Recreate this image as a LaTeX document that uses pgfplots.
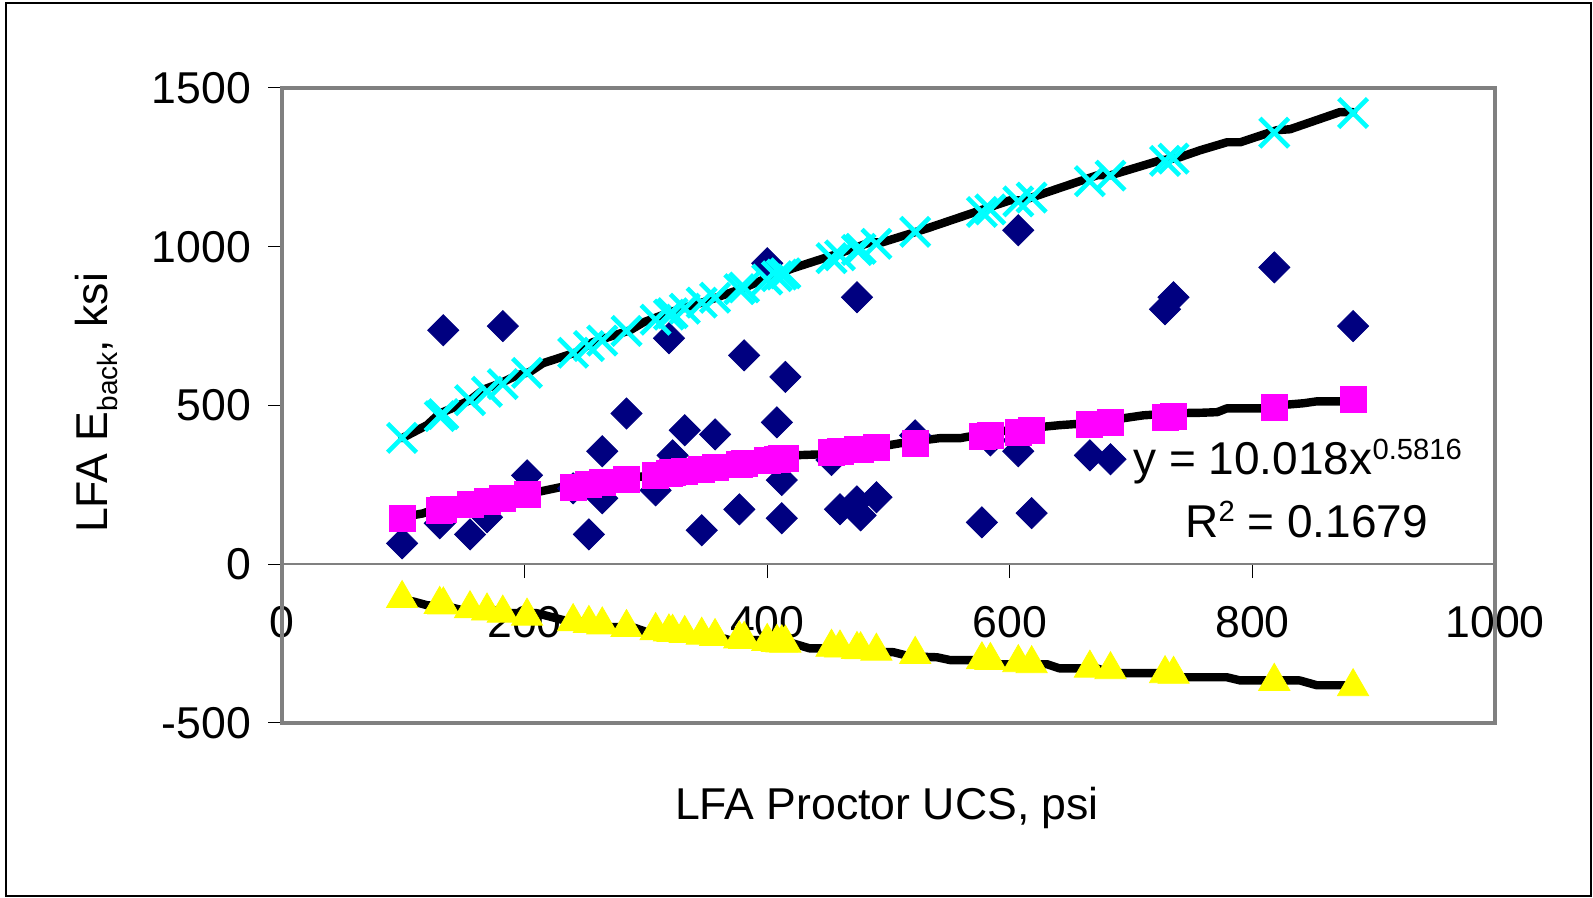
\documentclass[border=0pt]{standalone}
\usepackage{pgfplots}
\pgfplotsset{compat=1.18}
\usepackage{fontspec}
\setmainfont{Liberation Sans}

\definecolor{xlnavy}{HTML}{000080}
\definecolor{xlmagenta}{HTML}{FF00FF}
\definecolor{xlcyan}{HTML}{00FFFF}
\definecolor{xlyellow}{HTML}{FFFF00}
\definecolor{xlgray}{HTML}{808080}

\newcommand{\bigfont}{\fontsize{22.3}{26}\selectfont}
\newcommand{\eqfont}{\fontsize{23}{27}\selectfont}
\newcommand{\smallfont}{\fontsize{14}{16}\selectfont}
\newcommand{\supfont}{\fontsize{14.6}{16}\selectfont}

\begin{document}
\begin{tikzpicture}
\useasboundingbox (0,0) rectangle (796.5pt,449pt);
\draw[black, line width=1pt] (3pt,1pt) rectangle (795.5pt,447.5pt);

\begin{axis}[
  at={(141pt,87.5pt)}, anchor=south west,
  scale only axis, width=606.5pt, height=317.5pt,
  xmin=0, xmax=1000, ymin=-500, ymax=1500,
  axis x line=middle, axis y line=left,
  x axis line style={-, draw=xlgray, line width=1pt},
  y axis line style={-, draw=xlgray, line width=2pt},
  hide obscured x ticks=false, hide obscured y ticks=false,
  xtick={0,200,...,1000}, ytick={-500,0,...,1500},
  tick style={black, line width=0.5pt},
  major tick length=7pt,
  xtick align=outside, ytick align=outside,
  tick label style={font=\bigfont},
  /pgf/number format/assume math mode=true,
  /pgf/number format/1000 sep={},
  xticklabel style={yshift=-10.5pt},
  yticklabel style={xshift=-5pt},
  clip=false,
]
% plot frame
\draw[xlgray, line width=2pt] (rel axis cs:0,0) rectangle (rel axis cs:1,1);

% measured
\addplot[only marks, mark=square*, mark size=5.5pt,
  mark options={rotate=45, fill=xlnavy, draw=xlnavy}] coordinates {
  (99,66) (130,129) (133,737) (155,94) (169,148) (182,750) (202,280)
  (240,239) (253,94) (264,356) (264,208) (284,475) (308,233) (319,712)
  (322,343) (332,422) (346,107) (357,409) (377,173) (381,658) (400,948)
  (408,447) (412,265) (412,145) (415,590) (453,328) (460,173) (474,198)
  (474,841) (477,154) (490,211) (522,406) (577,132) (584,390) (607,356)
  (607,1052) (618,161) (666,343) (683,331) (728,803) (735,841) (818,935)
  (883,750)
};

% power fit
\addplot[only marks, mark=square*, mark size=6.5pt,
  mark options={fill=xlmagenta, draw=xlmagenta}] coordinates {
  (99,145.0) (130,169.9) (133,172.2) (155,188.2) (169,197.9) (182,206.7)
  (202,219.6) (240,242.7) (253,250.3) (264,256.6) (284,267.7) (308,280.6)
  (319,286.4) (322,288.0) (332,293.2) (346,300.2) (357,305.8) (377,315.6)
  (381,317.6) (400,326.7) (408,330.5) (412,332.4) (415,333.8) (453,351.2)
  (460,354.4) (474,360.6) (477,361.9) (490,367.6) (522,381.4) (577,404.2)
  (584,407.1) (607,416.3) (618,420.7) (666,439.5) (683,445.9) (728,462.8)
  (735,465.4) (818,495.2) (883,517.7)
};

% upper bound
\addplot[only marks, mark=x, mark size=10.2pt,
  mark options={draw=xlcyan, line width=2.3pt}] coordinates {
  (99,398.0) (130,466.4) (133,472.7) (155,516.6) (169,543.2) (182,567.4)
  (202,602.8) (240,666.2) (253,687.1) (264,704.4) (284,734.8) (308,770.2)
  (319,786.2) (322,790.6) (332,804.8) (346,824.0) (357,839.4) (377,866.3)
  (381,871.8) (400,896.8) (408,907.2) (412,912.4) (415,916.3) (453,964.0)
  (460,972.8) (474,989.8) (477,993.4) (490,1009.1) (522,1046.9) (577,1109.5)
  (584,1117.5) (607,1142.7) (618,1154.8) (666,1206.4) (683,1224.0) (728,1270.4)
  (735,1277.5) (818,1359.3) (883,1421.1)
};

% lower bound
\addplot[only marks, mark=triangle*, mark size=9pt,
  mark options={fill=xlyellow, draw=xlyellow}] coordinates {
  (99,-108.0) (130,-126.6) (133,-128.3) (155,-140.2) (169,-147.4) (182,-154.0)
  (202,-163.6) (240,-180.8) (253,-186.5) (264,-191.2) (284,-199.4) (308,-209.0)
  (319,-213.4) (322,-214.6) (332,-218.4) (346,-223.6) (357,-227.8) (377,-235.1)
  (381,-236.6) (400,-243.4) (408,-246.2) (412,-247.6) (415,-248.7) (453,-261.6)
  (460,-264.0) (474,-268.6) (477,-269.6) (490,-273.9) (522,-284.1) (577,-301.1)
  (584,-303.3) (607,-310.1) (618,-313.4) (666,-327.4) (683,-332.2) (728,-344.8)
  (735,-346.7) (818,-368.9) (883,-385.7)
};

% black trend lines
\addplot[black, line width=4.2pt, line join=round, line cap=round, mark=none] coordinates {
  (99,397) (119.5,438) (130,475) (142.6,495) (155,517) (166,550) (180,570)
  (193.7,595) (204,605) (215,633) (243,668) (256,699) (287,737) (298,762)
  (320,794) (347,825) (380,869) (402,905) (421,932) (460,980) (485,1014)
  (495,1014) (532,1058) (600,1146) (611,1146) (672,1225) (683,1225)
  (724,1272) (738,1279) (757,1304) (779,1329) (790,1329) (820,1367)
  (831,1370) (872,1424) (883,1424)
};
\addplot[black, line width=4.2pt, line join=round, line cap=round, mark=none] coordinates {
  (99,148) (116,160) (141,192) (160.6,202) (182,217) (210,227) (237.5,249)
  (264.6,265) (292.6,274) (320,290) (347,306) (369,318) (388,328) (402,333)
  (421,343) (443.5,346) (476,359) (509.5,381) (542,397) (559,397) (586,416)
  (614,428) (641,438) (663.6,444) (683,454) (710,469) (737,476) (757,477)
  (771,479) (779,491) (809,491) (823,501) (842,507) (853,513) (883,513)
};
\addplot[black, line width=4.2pt, line join=round, line cap=round, mark=none] coordinates {
  (99,-117) (108,-117) (119.5,-129) (138.5,-135) (149,-145) (169,-145)
  (182,-154) (210,-154) (232,-176) (254,-183) (268,-198) (289,-198)
  (301,-214) (317,-214) (330.6,-227) (361,-230) (369,-239) (394,-239)
  (408,-249) (421,-249) (435,-265) (462.5,-265) (476,-277) (504,-277)
  (517.7,-290) (540,-293) (551,-302) (581,-302) (592,-315) (630.7,-315)
  (641,-328) (672,-328) (683,-343) (726,-343) (740,-356) (779,-356)
  (790,-366) (839,-366) (853,-381) (883,-381)
};
\end{axis}

\node[rotate=90, anchor=base, font=\bigfont] at (53.5pt,247.5pt)
  {LFA E\raisebox{-5pt}{\smallfont back}, ksi};
\node[anchor=base, font=\bigfont] at (443.5pt,39pt) {LFA Proctor UCS, psi};
\node[anchor=base west, font=\eqfont, inner sep=0pt] at (566.5pt,211.5pt)
  {y = 10.018x\raisebox{7.8pt}{\supfont 0.5816}};
\node[anchor=base west, font=\eqfont, inner sep=0pt] at (592.5pt,180pt)
  {R\raisebox{8pt}{\supfont 2} = 0.1679};
\end{tikzpicture}
\end{document}
